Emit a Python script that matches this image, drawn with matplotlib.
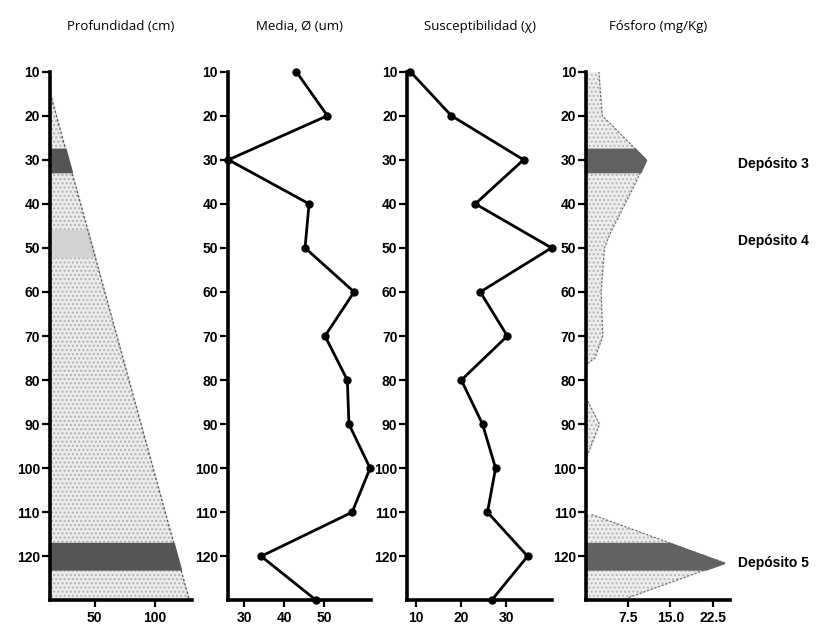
import numpy as np
import matplotlib.pyplot as plt

# depth profile values
depth = [10, 20, 30, 40, 50, 60, 70, 80, 90, 100, 110, 120, 130]
media = [43, 50.8, 26, 46.2, 45.2, 57.5, 50.2, 55.8, 56.2, 61.5, 57, 34.2, 48]
suscept = [8.7, 17.8, 33.8, 23.1, 40, 24.2, 30.2, 20, 24.7, 27.6, 25.8, 34.7, 26.7]

# profundidad triangle
tri_depth = [15, 130]
tri_edge = [13, 129]

# fosforo profile (three separate lobes)
p1_depth = [10, 20, 22, 30, 35, 47, 50, 60, 70, 75, 76.5]
p1_val = [2.3, 2.9, 4.5, 10.7, 8.9, 4.2, 3.3, 2.7, 3.0, 1.6, 0]
p2_depth = [84, 90, 98]
p2_val = [0, 2.4, 0]
p3_depth = [110.5, 121.5, 129.5]
p3_val = [1.0, 24.6, 7.3]

dark_bands = [(27.5, 32.8), (117, 123)]
mid_band = (46, 52)

labels = ['Depósito 3', 'Depósito 4', 'Depósito 5']
label_depth = [31, 48.5, 121.5]

titles = ['Profundidad (cm)', 'Media, Ø (um)', 'Susceptibilidad (χ)', 'Fósforo (mg/Kg)']
yticks = [10, 20, 30, 40, 50, 60, 70, 80, 90, 100, 110, 120]
xticks = [[50, 100], [30, 40, 50], [10, 20, 30], [7.5, 15.0, 22.5]]
xticklabels = [['50', '100'], ['30', '40', '50'], ['10', '20', '30'], ['7.5', '15.0', '22.5']]
xlims = [(12.5, 131), (25.8, 61.8), (8, 40.2), (0, 25.5)]

plt.rcParams['font.family'] = ['Liberation Sans', 'DejaVu Sans']

fig = plt.figure(figsize=(8.16, 6.4), dpi=100)
lefts = [0.061, 0.279, 0.499, 0.718]
widths = [0.174, 0.176, 0.178, 0.176]
bottom, height = 0.062, 0.826
axes = []
for i in range(4):
    ax = fig.add_axes([lefts[i], bottom, widths[i], height])
    ax.set_ylim(130, 10)
    ax.set_xlim(*xlims[i])
    for s in ['top', 'right']:
        ax.spines[s].set_visible(False)
    for s in ['left', 'bottom']:
        ax.spines[s].set_linewidth(2.6)
    ax.set_yticks(yticks)
    ax.set_yticklabels([str(t) for t in yticks], fontsize=10, fontweight='bold')
    ax.set_xticks(xticks[i])
    ax.set_xticklabels(xticklabels[i], fontsize=10, fontweight='bold')
    ax.tick_params(axis='y', length=6, width=1.6, pad=1)
    ax.tick_params(axis='x', length=5, width=1.6, pad=3)
    fig.text(lefts[i] + widths[i] / 2, 0.958, titles[i], ha='center', va='center',
             fontsize=9.5, family=['Open Sans', 'DejaVu Sans'])
    axes.append(ax)

# panel 1: triangle with bands
ax = axes[0]
x0 = xlims[0][0]
d = np.linspace(tri_depth[0], tri_depth[1], 200)
edge = np.interp(d, tri_depth, tri_edge)
ax.fill_betweenx(d, x0, edge, color='#ececec', zorder=1)
ax.fill_betweenx(d, x0, edge, facecolor='none', edgecolor='#b0b0b0', hatch='....', linewidth=0, zorder=1)
ax.plot(tri_edge, tri_depth, color='#555555', lw=0.9, ls=(0, (2, 1.5)), zorder=2)
for a, b in dark_bands:
    dd = np.linspace(a, b, 20)
    ax.fill_betweenx(dd, x0, np.interp(dd, tri_depth, tri_edge), color='#555555', zorder=2)
dd = np.linspace(mid_band[0], mid_band[1], 20)
ax.fill_betweenx(dd, x0, np.interp(dd, tri_depth, tri_edge), color='#d2d2d2', zorder=1.5)

# panel 2 & 3: line profiles
axes[1].plot(media, depth, color='black', lw=2, marker='o', ms=5, clip_on=False, zorder=3)
axes[2].plot(suscept, depth, color='black', lw=2, marker='o', ms=5, clip_on=False, zorder=3)

# panel 4: fosforo lobes
ax = axes[3]
for pd, pv in [(p1_depth, p1_val), (p2_depth, p2_val), (p3_depth, p3_val)]:
    dd = np.linspace(pd[0], pd[-1], 200)
    vv = np.interp(dd, pd, pv)
    ax.fill_betweenx(dd, 0, vv, color='#eeeeee', zorder=1)
    ax.fill_betweenx(dd, 0, vv, facecolor='none', edgecolor='#b5b5b5', hatch='....', linewidth=0, zorder=1)
    ax.plot(pv, pd, color='#666666', lw=0.8, ls=(0, (2, 1.5)), zorder=2)
for (a, b), (pd, pv) in zip(dark_bands, [(p1_depth, p1_val), (p3_depth, p3_val)]):
    dd = np.linspace(a, b, 50)
    ax.fill_betweenx(dd, 0, np.interp(dd, pd, pv), color='#626262', zorder=2)

for lab, yd in zip(labels, label_depth):
    ax.text(27, yd, lab, ha='left', va='center', fontsize=10, fontweight='bold',
            clip_on=False)

plt.savefig('out.png', dpi=100)
